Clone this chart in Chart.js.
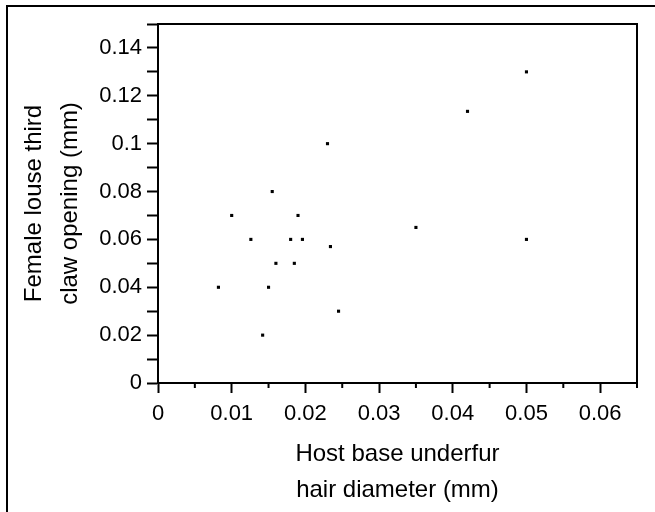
<!DOCTYPE html>
<html>
<head>
<meta charset="utf-8">
<title>Claw opening vs hair diameter</title>
<script src="https://cdn.jsdelivr.net/npm/chart.js@4"></script>
<style>
  body { margin: 0; background: #fff; }
  #wrap { width: 655px; height: 512px; position: relative; }
</style>
</head>
<body>
<div id="wrap"><canvas id="clawchart"></canvas></div>
<script>
'use strict';

// host base underfur hair diameter (mm)
var hairDiameter = [0.0082, 0.0100, 0.0126, 0.0142, 0.0150, 0.0160, 0.0155, 0.0180, 0.0185,
  0.0190, 0.0196, 0.0230, 0.0234, 0.0245, 0.0350, 0.0420, 0.0500, 0.0500];
// female louse third claw opening (mm)
var clawOpening = [0.040, 0.070, 0.060, 0.020, 0.040, 0.050, 0.080, 0.060, 0.050,
  0.070, 0.060, 0.100, 0.057, 0.030, 0.065, 0.1135, 0.130, 0.060];

var xTitle = ['Host base underfur', 'hair diameter (mm)'];
var yTitle = ['Female louse third', 'claw opening (mm)'];

var points = [];
for (var i = 0; i < hairDiameter.length; i++) {
  points.push({x: hairDiameter[i], y: clawOpening[i]});
}

function fmt(v) {
  return String(+v.toFixed(2));
}

var FONT = 'Liberation Sans, Arial, sans-serif';

// box around plot, minor x ticks and the figure frame
var framePlugin = {
  id: 'frame',
  afterDraw: function(chart) {
    var ctx = chart.ctx;
    var a = chart.chartArea;
    var xs = chart.scales.x;
    ctx.save();
    ctx.strokeStyle = '#000';
    ctx.lineWidth = 2;
    ctx.beginPath();
    ctx.moveTo(a.left, a.top);
    ctx.lineTo(a.right, a.top);
    ctx.lineTo(a.right, a.bottom);
    ctx.stroke();

    // short ticks on the x axis for the in-between values
    ctx.beginPath();
    xs.ticks.forEach(function(t) {
      if (Math.round(t.value * 1000) % 10 !== 0) {
        var px = xs.getPixelForValue(t.value);
        ctx.moveTo(px, a.bottom);
        ctx.lineTo(px, a.bottom + 5);
      }
    });
    ctx.stroke();

    // figure frame (top and left only)
    ctx.beginPath();
    ctx.moveTo(7, chart.height);
    ctx.lineTo(7, 6);
    ctx.lineTo(chart.width, 6);
    ctx.stroke();
    ctx.restore();
  }
};

var ctx = document.getElementById('clawchart').getContext('2d');
var chart = new Chart(ctx, {
  type: 'scatter',
  data: {
    datasets: [{
      data: points,
      pointStyle: 'rect',
      pointRadius: 2.2,
      pointBorderWidth: 0,
      backgroundColor: '#000',
      borderColor: '#000'
    }]
  },
  options: {
    responsive: true,
    maintainAspectRatio: false,
    animation: false,
    layout: { padding: { top: 24, right: 18, left: 0, bottom: 0 } },
    plugins: {
      legend: { display: false },
      tooltip: { enabled: false }
    },
    scales: {
      x: {
        type: 'linear',
        min: 0,
        max: 0.065,
        afterFit: function(scale) { scale.height = 129; },
        border: { display: true, color: '#000', width: 2 },
        grid: {
          drawOnChartArea: false,
          drawTicks: true,
          tickLength: 10,
          tickWidth: 2,
          tickColor: function(c) {
            if (!c.tick) return '#000';
            return Math.round(c.tick.value * 1000) % 10 === 0 ? '#000' : 'rgba(0,0,0,0)';
          }
        },
        ticks: {
          stepSize: 0.005,
          autoSkip: false,
          maxRotation: 0,
          padding: 8,
          color: '#000',
          font: { family: FONT, size: 22 },
          callback: function(v) {
            return Math.round(v * 1000) % 10 === 0 ? fmt(v) : '';
          }
        },
        title: {
          display: true,
          text: xTitle,
          color: '#000',
          font: { family: FONT, size: 24, lineHeight: 1.5 },
          padding: { top: 0, bottom: 4 }
        }
      },
      y: {
        type: 'linear',
        min: 0,
        max: 0.15,
        afterFit: function(scale) { scale.width = 158; },
        border: { display: true, color: '#000', width: 2 },
        grid: {
          drawOnChartArea: false,
          drawTicks: true,
          tickLength: 11,
          tickWidth: 2,
          tickColor: '#000'
        },
        ticks: {
          stepSize: 0.01,
          autoSkip: false,
          padding: 5,
          color: '#000',
          font: { family: FONT, size: 22 },
          callback: function(v) {
            return Math.round(v * 100) % 2 === 0 ? fmt(v) : '';
          }
        },
        title: {
          display: true,
          text: yTitle,
          color: '#000',
          font: { family: FONT, size: 24, lineHeight: 1.5 },
          padding: { top: 16, bottom: 0 }
        }
      }
    }
  },
  plugins: [framePlugin]
});
</script>
</body>
</html>
